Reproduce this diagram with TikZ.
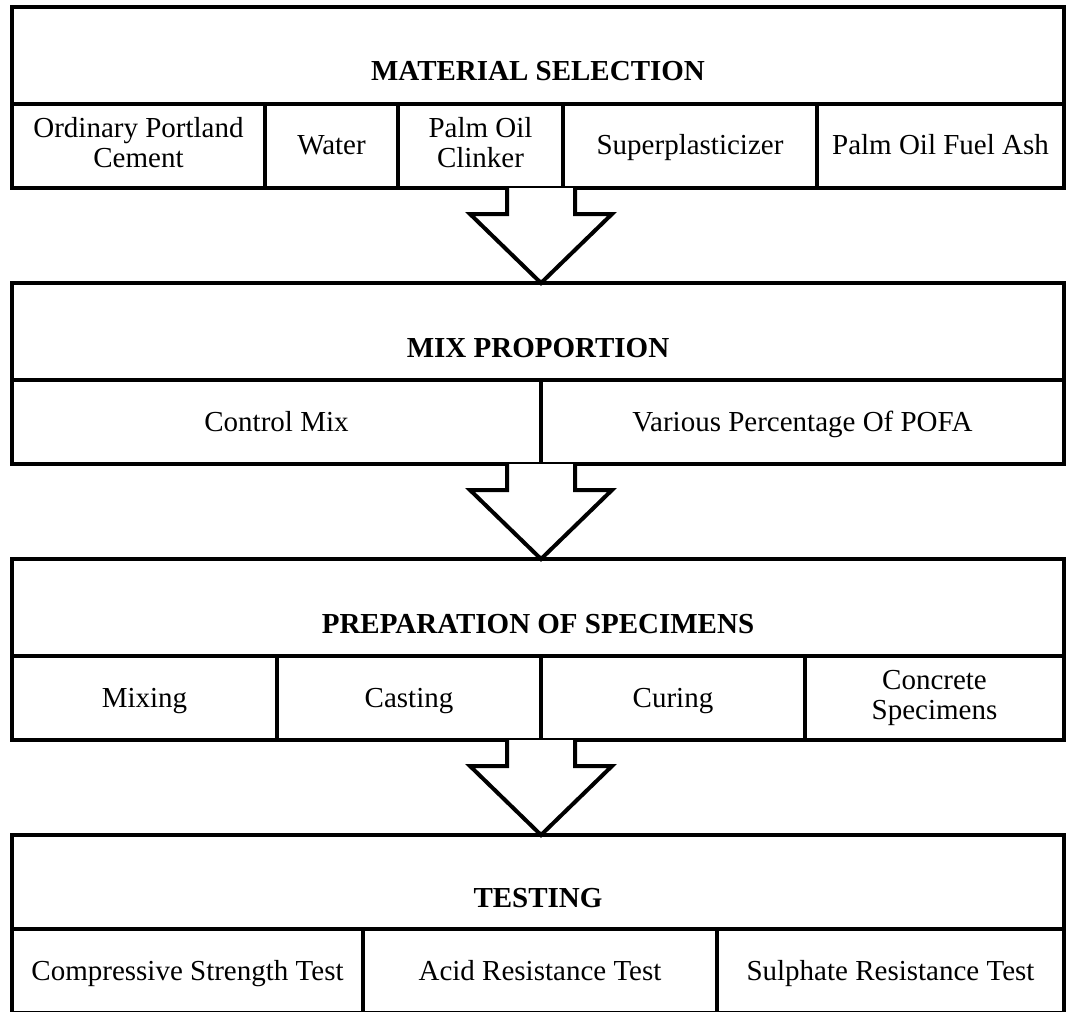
\documentclass[tikz,border=0pt]{standalone}
\usepackage{fontspec}
\setmainfont{Liberation Serif}
\usetikzlibrary{positioning, calc}
\newcommand{\topstrut}{\rule{0pt}{12.5pt}}
\newcommand{\botstrut}{\rule[-3.5pt]{0pt}{3.5pt}}

\begin{document}
\begin{tikzpicture}
    % Styles
    \tikzstyle{head} = [rectangle, draw, line width=2pt, outer sep=0pt, inner sep=2pt,
        minimum width=526pt, minimum height=48.5pt, text height=25.5pt, text depth=0pt,
        font=\fontsize{14.5}{15}\selectfont\bfseries]
    \tikzstyle{cell} = [rectangle, draw, line width=2pt, outer sep=0pt, inner sep=2pt,
        minimum height=42pt, align=center, font=\fontsize{14.5}{15}\selectfont,
        execute at begin node=\topstrut, execute at end node=\botstrut]
    \tikzstyle{blockarrow} = [draw, line width=2pt, fill=white]

    % Page
    \fill[white] (0,0) rectangle (534.5pt,-505.5pt);
    \useasboundingbox (0,0) rectangle (534.5pt,-505.5pt);

    % Material selection
    \node [head, anchor=north west] (selhead) at (6pt,-3.5pt) {MATERIAL SELECTION};
    \node [cell, minimum width=126.5pt, below right=0pt of selhead.south west] (opc) {Ordinary Portland\\Cement};
    \node [cell, minimum width=66.5pt, right=0pt of opc] (water) {Water};
    \node [cell, minimum width=82.5pt, right=0pt of water] (clinker) {Palm Oil\\Clinker};
    \node [cell, minimum width=127pt, right=0pt of clinker] (sp) {Superplasticizer};
    \node [cell, minimum width=123.5pt, right=0pt of sp] (pofa) {Palm Oil Fuel Ash};

    % Mix proportion
    \node [head, below right=47.5pt and 0pt of opc.south west] (mixhead) {MIX PROPORTION};
    \node [cell, minimum width=264.5pt, below right=0pt of mixhead.south west] (ctrl) {Control Mix};
    \node [cell, minimum width=261.5pt, right=0pt of ctrl] (various) {Various Percentage Of POFA};

    % Preparation of specimens
    \node [head, below right=47.5pt and 0pt of ctrl.south west] (prephead) {PREPARATION OF SPECIMENS};
    \node [cell, minimum width=132.5pt, below right=0pt of prephead.south west] (mixing) {Mixing};
    \node [cell, minimum width=132pt, right=0pt of mixing] (casting) {Casting};
    \node [cell, minimum width=132pt, right=0pt of casting] (curing) {Curing};
    \node [cell, minimum width=129.5pt, right=0pt of curing] (conc) {Concrete\\Specimens};

    % Testing
    \node [head, minimum height=47pt, below right=47.5pt and 0pt of mixing.south west] (testhead) {TESTING};
    \node [cell, minimum width=175.5pt, below right=0pt of testhead.south west] (comp) {Compressive Strength Test};
    \node [cell, minimum width=177pt, right=0pt of comp] (acid) {Acid Resistance Test};
    \node [cell, minimum width=173.5pt, right=0pt of acid] (sulph) {Sulphate Resistance Test};

    % Arrows
    \coordinate (s1) at (ctrl.east |- clinker.south);
    \coordinate (t1) at (ctrl.east |- mixhead.north);
    \coordinate (s2) at (ctrl.east |- ctrl.south);
    \coordinate (t2) at (ctrl.east |- prephead.north);
    \coordinate (s3) at (ctrl.east |- mixing.south);
    \coordinate (t3) at (ctrl.east |- testhead.north);
    \foreach \s/\t in {s1/t1, s2/t2, s3/t3}
        \draw [blockarrow] ($(\s)+(-17pt,0)$) -- ($(\t)+(-17pt,34.5pt)$) -- ($(\t)+(-35.5pt,34.5pt)$)
            -- (\t) -- ($(\t)+(35.5pt,34.5pt)$) -- ($(\t)+(17pt,34.5pt)$) -- ($(\s)+(17pt,0)$);
\end{tikzpicture}
\end{document}
